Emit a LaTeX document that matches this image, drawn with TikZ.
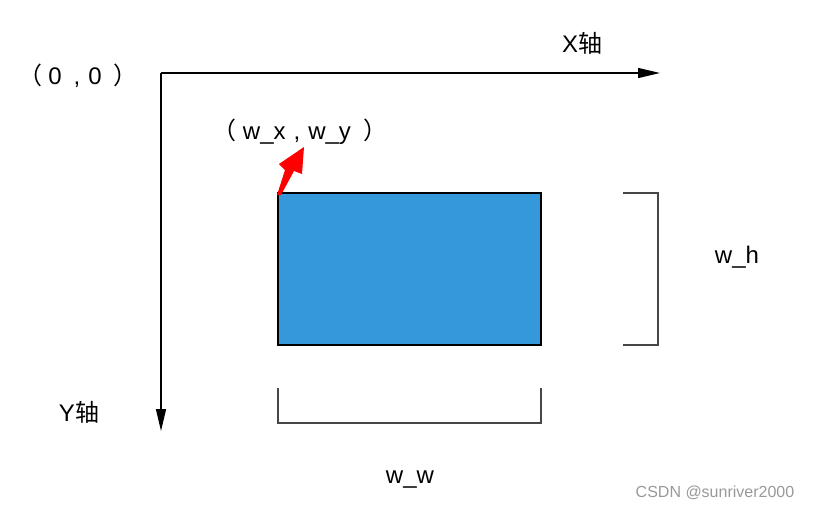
\documentclass[tikz,border=0pt]{standalone}
\usepackage{fontspec}
\setmainfont{Liberation Sans}
\newfontfamily\cjk{Noto Sans CJK SC}
\usetikzlibrary{arrows.meta}
\definecolor{boxblue}{RGB}{52,152,219}
\definecolor{brgrey}{RGB}{70,70,70}
\newcommand{\lpar}{{\cjk （}}
\newcommand{\rpar}{{\cjk ）}}
\begin{document}
\begin{tikzpicture}[x=1pt,y=-1pt,
  lbl/.style={font=\fontsize{24}{28}\selectfont, inner sep=0pt},
  axis/.style={line width=1.5pt, draw=black, -{Triangle[length=22pt,width=10pt]}},
  bracket/.style={line width=1.5pt, draw=brgrey},
  box/.style={draw=black, line width=1.5pt, fill=boxblue}]
\useasboundingbox (0,0) rectangle (816,509);
\fill[white] (0,0) rectangle (816,509);
% axes
\coordinate (O) at (161,73);
\coordinate (Xend) at (660,73);
\coordinate (Yend) at (161,431);
\draw[axis] (O) -- (Xend);
\draw[axis] (O) -- (Yend);
\node[lbl] (origin) at (78,76) {\lpar\kern6pt 0\kern12pt,\kern8pt 0\kern12pt\rpar};
\node[lbl] (xlab) at (582,43) {X{\cjk 轴}};
\node[lbl] (ylab) at (79,412) {Y{\cjk 轴}};
% rectangle
\coordinate (R1) at (278,193);
\coordinate (R2) at (541,345);
\draw[box] (R1) rectangle (R2);
% red arrow
\fill[red] (277,195) -- (285,170) -- (279,164) -- (304,147) -- (302,174) -- (294,171) -- (281,195) -- cycle;
\node[lbl] (wxy) at (300,132) {\lpar\kern6pt w\_x\kern8pt,\kern8pt w\_y\kern12pt\rpar};
% right bracket
\coordinate (h1) at (623,193);
\coordinate (h2) at (658,193);
\coordinate (h3) at (658,345);
\coordinate (h4) at (623,345);
\draw[bracket] (h1) -- (h2) -- (h3) -- (h4);
\node[lbl] (wh) at (737,257) {w\_h};
% bottom bracket
\coordinate (b1) at (278,388);
\coordinate (b2) at (278,423);
\coordinate (b3) at (541,423);
\coordinate (b4) at (541,388);
\draw[bracket] (b1) -- (b2) -- (b3) -- (b4);
\node[lbl] (ww) at (410,480) {w\_w};
% watermark
\node[font=\fontsize{16}{18}\selectfont, text=black!40, inner sep=0pt] (wm) at (715,493) {CSDN @sunriver2000};
\end{tikzpicture}
\end{document}
